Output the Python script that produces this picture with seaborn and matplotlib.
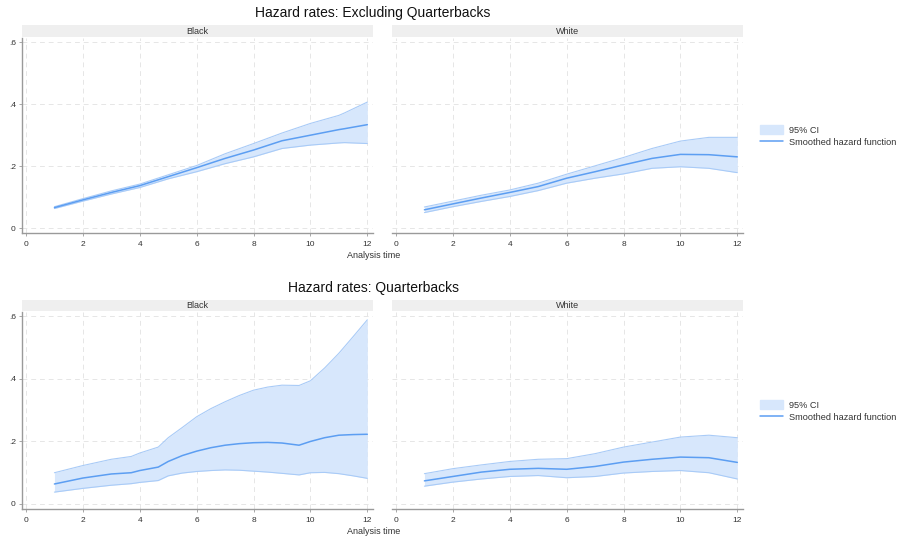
import numpy as np
import pandas as pd
import matplotlib
matplotlib.use("Agg")
import matplotlib.pyplot as plt
from matplotlib.patches import Patch
from matplotlib.lines import Line2D
import seaborn as sns

sns.set_theme(style="white")
plt.rcParams["font.family"] = ["Liberation Sans", "DejaVu Sans"]

# Excluding quarterbacks
nonqb_black_t = [1, 2, 3, 4, 5, 6, 7, 8, 9, 10, 11, 11.2, 12]
nonqb_black_h = [0.066, 0.091, 0.115, 0.137, 0.166, 0.195, 0.225, 0.252, 0.282, 0.300, 0.318, 0.321, 0.334]
nonqb_black_lo = [0.063, 0.087, 0.110, 0.131, 0.159, 0.182, 0.208, 0.230, 0.257, 0.268, 0.275, 0.276, 0.273]
nonqb_black_hi = [0.069, 0.095, 0.120, 0.142, 0.172, 0.202, 0.240, 0.273, 0.307, 0.338, 0.364, 0.372, 0.407]

nonqb_white_t = [1, 2, 3, 4, 5, 6, 7, 8, 9, 10, 11, 12]
nonqb_white_h = [0.059, 0.078, 0.097, 0.115, 0.134, 0.161, 0.182, 0.204, 0.225, 0.238, 0.237, 0.230]
nonqb_white_lo = [0.050, 0.069, 0.086, 0.102, 0.121, 0.145, 0.161, 0.175, 0.193, 0.198, 0.193, 0.179]
nonqb_white_hi = [0.068, 0.087, 0.106, 0.123, 0.145, 0.174, 0.201, 0.228, 0.257, 0.281, 0.293, 0.293]

# Quarterbacks
qb_black_t = [1, 2, 3, 3.7, 4, 4.65, 5, 5.5, 6, 6.5, 7, 7.5, 8, 8.5, 9, 9.6, 10, 10.5, 11, 11.5, 12]
qb_black_h = [0.064, 0.083, 0.096, 0.100, 0.107, 0.118, 0.136, 0.155, 0.169, 0.180, 0.188, 0.193,
              0.196, 0.197, 0.195, 0.188, 0.200, 0.212, 0.220, 0.222, 0.223]
qb_black_lo = [0.038, 0.050, 0.060, 0.065, 0.069, 0.075, 0.090, 0.099, 0.104, 0.107, 0.109, 0.108,
               0.105, 0.102, 0.098, 0.093, 0.100, 0.101, 0.097, 0.090, 0.082]
qb_black_hi = [0.100, 0.123, 0.143, 0.152, 0.163, 0.182, 0.212, 0.245, 0.279, 0.305, 0.327, 0.347,
               0.364, 0.374, 0.380, 0.379, 0.394, 0.435, 0.482, 0.535, 0.589]

qb_white_t = [1, 2, 3, 4, 5, 6, 7, 8, 9, 10, 11, 12]
qb_white_h = [0.074, 0.088, 0.102, 0.111, 0.114, 0.111, 0.120, 0.134, 0.143, 0.150, 0.148, 0.133]
qb_white_lo = [0.057, 0.070, 0.080, 0.088, 0.091, 0.084, 0.088, 0.099, 0.104, 0.107, 0.100, 0.080]
qb_white_hi = [0.097, 0.113, 0.125, 0.136, 0.143, 0.145, 0.161, 0.182, 0.198, 0.214, 0.220, 0.212]

groups = ["Black", "White"]
titles = ["Hazard rates: Excluding Quarterbacks", "Hazard rates: Quarterbacks"]

LINE = "#5c9ef2"
FILL = "#d7e7fc"
EDGE = "#a9cbf7"
GRID = "#e6e6e6"
SPINE = "#9a9a9a"
STRIP = "#efefef"

W, H = 897, 543
fig = plt.figure(figsize=(W / 100, H / 100), dpi=100)
fig.patch.set_facecolor("white")


def box(x0, y0, x1, y1):
    return [x0 / W, 1 - y1 / H, (x1 - x0) / W, (y1 - y0) / H]


rows = [
    dict(top=38, bottom=233, strip=25, title_y=13, xlabel_y=256, legend_y=136,
         data=[(nonqb_black_t, nonqb_black_h, nonqb_black_lo, nonqb_black_hi),
               (nonqb_white_t, nonqb_white_h, nonqb_white_lo, nonqb_white_hi)]),
    dict(top=312, bottom=509, strip=300, title_y=288, xlabel_y=532, legend_y=411,
         data=[(qb_black_t, qb_black_h, qb_black_lo, qb_black_hi),
               (qb_white_t, qb_white_h, qb_white_lo, qb_white_hi)]),
]
cols = [(22, 373), (392, 743)]

for r, row in enumerate(rows):
    for c, (x0, x1) in enumerate(cols):
        ax = fig.add_axes(box(x0, row["top"], x1, row["bottom"]))
        tt, h, lo, hi = row["data"][c]
        ax.fill_between(tt, lo, hi, color=FILL, linewidth=0)
        ax.plot(tt, lo, color=EDGE, lw=0.8)
        ax.plot(tt, hi, color=EDGE, lw=0.8)
        df = pd.DataFrame({"time": tt, "hazard": h})
        sns.lineplot(data=df, x="time", y="hazard", ax=ax, color=LINE, lw=1.1)
        ax.set_xlim(-0.14, 12.2)
        ax.set_ylim(-0.016, 0.614)
        ax.set_xticks(range(0, 13, 2))
        ax.set_yticks([0, 0.2, 0.4, 0.6])
        ax.grid(True, color=GRID, linestyle=(0, (5, 4)), lw=0.7)
        ax.set_xlabel("")
        ax.set_ylabel("")
        for s in ["top", "right"]:
            ax.spines[s].set_visible(False)
        ax.spines["bottom"].set_color(SPINE)
        ax.spines["bottom"].set_linewidth(1.0)
        ax.tick_params(axis="x", length=2.5, width=0.6, color=SPINE, pad=3.5,
                       labelsize=6, labelcolor="#333333", bottom=True)
        if c == 0:
            ax.spines["left"].set_color(SPINE)
            ax.spines["left"].set_linewidth(1.0)
            ax.set_yticklabels(["0", ".2", ".4", ".6"])
            ax.tick_params(axis="y", length=2.5, width=0.6, color=SPINE, pad=2,
                           labelsize=6, labelcolor="#333333", left=True)
        else:
            ax.spines["left"].set_visible(False)
            ax.tick_params(axis="y", left=False, labelleft=False)
        # facet strip
        sax = fig.add_axes(box(x0, row["strip"], x1, row["top"] - 1))
        sax.set_facecolor(STRIP)
        sax.set_xticks([])
        sax.set_yticks([])
        for s in sax.spines.values():
            s.set_visible(False)
        sax.text(0.5, 0.5, groups[c], ha="center", va="center", fontsize=6.5,
                 color="#333333", transform=sax.transAxes)

    fig.text(373 / W, 1 - row["title_y"] / H, titles[r], ha="center", va="center",
             fontsize=10, color="#111111")
    fig.text(374 / W, 1 - row["xlabel_y"] / H, "Analysis time", ha="center",
             va="center", fontsize=6.5, color="#333333")
    handles = [Patch(facecolor=FILL, edgecolor=FILL, label="95% CI"),
               Line2D([0], [0], color=LINE, lw=1.1, label="Smoothed hazard function")]
    fig.legend(handles=handles, loc="center left",
               bbox_to_anchor=(758 / W, 1 - row["legend_y"] / H), frameon=False,
               fontsize=6.6, handlelength=2.5, handleheight=1.0,
               labelspacing=0.3, handletextpad=0.7, borderpad=0.2,
               borderaxespad=0.0, labelcolor="#333333")

fig.savefig("out.png", dpi=100, facecolor="white")
